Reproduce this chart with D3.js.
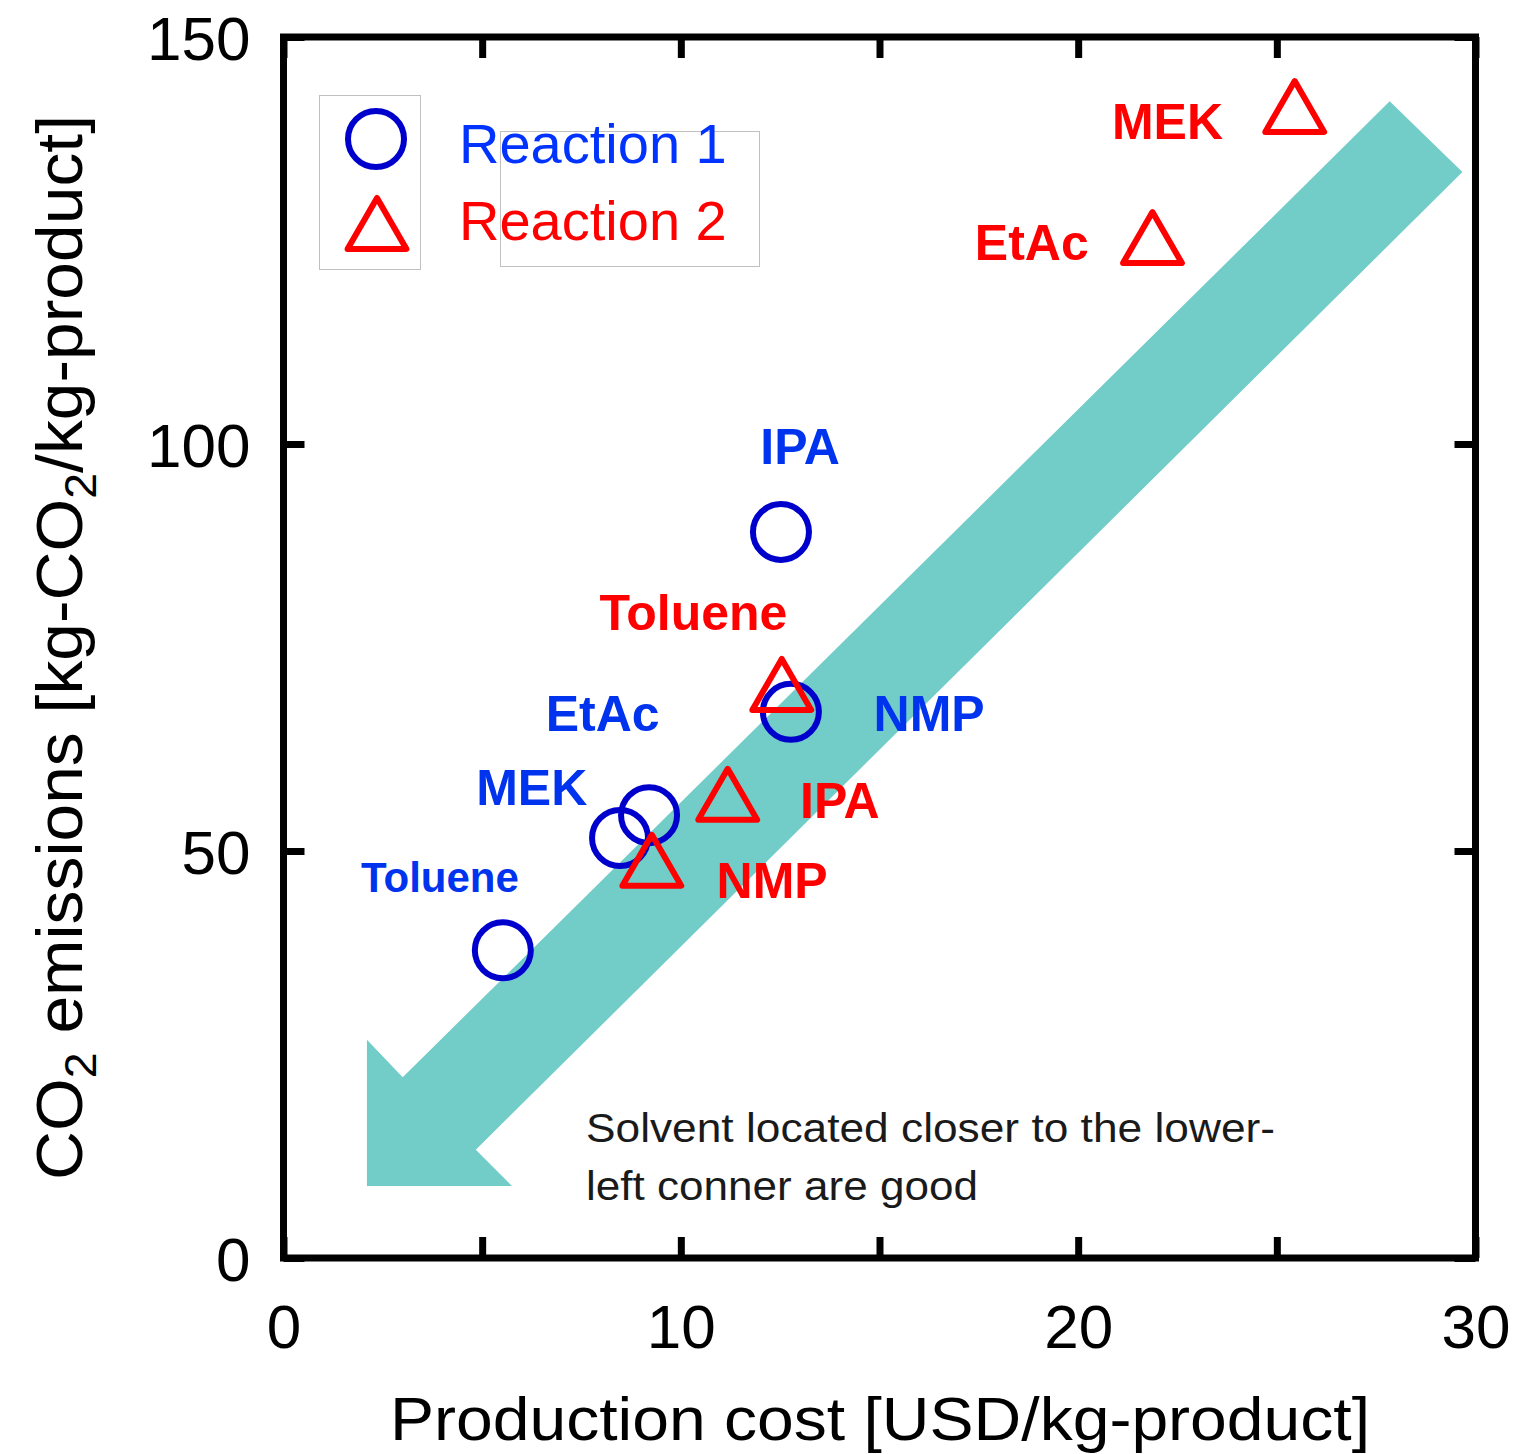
<!DOCTYPE html>
<html>
<head>
<meta charset="utf-8">
<script src="https://cdn.jsdelivr.net/npm/d3@7"></script>
<style>
  body { margin: 0; background: #fff; }
  text { font-family: "Liberation Sans", Arial, sans-serif; }
</style>
</head>
<body>
<svg id="chart" width="1533" height="1454"></svg>
<script>
// data
const solvents1 = ['Toluene', 'MEK', 'EtAc', 'IPA', 'NMP'];
const cost1 = [5.52, 8.47, 9.2, 12.52, 12.77];
const co2_1 = [37.8, 51.6, 54.4, 89.2, 67.1];

const solvents2 = ['MEK', 'EtAc', 'Toluene', 'IPA', 'NMP'];
const cost2 = [25.45, 21.87, 12.54, 11.18, 9.27];
const co2_2 = [141.4, 125.3, 70.4, 56.9, 48.8];

// label anchors (data units) for each point label
const label1 = [
  { x: 1.95, y: 45.0, size: 42 },
  { x: 4.85, y: 55.7, size: 50 },
  { x: 6.6, y: 64.8, size: 50 },
  { x: 12.0, y: 97.5, size: 50 },
  { x: 14.85, y: 64.8, size: 50 }
];
const label2 = [
  { x: 20.85, y: 137.5, size: 50 },
  { x: 17.4, y: 122.6, size: 50 },
  { x: 7.95, y: 77.2, size: 50 },
  { x: 13.0, y: 54.0, size: 50 },
  { x: 10.9, y: 44.2, size: 50 }
];

const xTicks = [0, 5, 10, 15, 20, 25, 30];
const xLabels = [0, 10, 20, 30];
const yTicks = [0, 50, 100, 150];

// big "lower-left is better" arrow outline, data units
const arrowPts = [
  [27.84, 142.1], [29.67, 133.4], [4.84, 13.3], [5.75, 8.85],
  [2.1, 8.85], [2.1, 26.8], [3.0, 22.2]
];

const margin = { top: 37, left: 283.5, right: 57.5, bottom: 196 };
const W = 1533, H = 1454;
const iw = W - margin.left - margin.right;
const ih = H - margin.top - margin.bottom;

const svg = d3.select('#chart');
const g = svg.append('g').attr('transform', 'translate(' + [margin.left, margin.top] + ')');

const x = d3.scaleLinear().domain([0, 30]).range([0, iw]);
const y = d3.scaleLinear().domain([0, 150]).range([ih, 0]);

const blue = '#0000cc', blueText = '#0033ee', red = '#ff0000';

// arrow
g.append('path')
  .attr('d', d3.line().x(d => x(d[0])).y(d => y(d[1]))(arrowPts) + 'Z')
  .style('fill', '#72cdc9');

// ticks (inward on all four sides)
function tickAxis(axis, tr) {
  const a = g.append('g').attr('transform', tr).call(axis);
  a.select('.domain').remove();
  a.selectAll('.tick line').style('stroke', '#000').style('stroke-width', 7);
  a.selectAll('.tick text').remove();
}
tickAxis(d3.axisBottom(x).tickValues(xTicks).tickSize(-21), 'translate(0,' + ih + ')');
tickAxis(d3.axisTop(x).tickValues(xTicks).tickSize(-21), 'translate(0,0)');
tickAxis(d3.axisLeft(y).tickValues(yTicks).tickSize(-21), 'translate(0,0)');
tickAxis(d3.axisRight(y).tickValues(yTicks).tickSize(-21), 'translate(' + iw + ',0)');

// frame
g.append('rect').attr('width', iw).attr('height', ih)
  .style('fill', 'none').style('stroke', '#000').style('stroke-width', 7);

// tick labels
const xl = g.append('g').attr('transform', 'translate(0,' + ih + ')')
  .call(d3.axisBottom(x).tickValues(xLabels).tickSize(0).tickPadding(0));
xl.select('.domain').remove();
xl.selectAll('.tick text').attr('y', 90).attr('dy', 0)
  .style('font-size', '62px').style('font-family', '"Liberation Sans", Arial, sans-serif').style('fill', '#000');

const yl = g.append('g')
  .call(d3.axisLeft(y).tickValues(yTicks).tickSize(0).tickPadding(0));
yl.select('.domain').remove();
yl.selectAll('.tick text').attr('x', -33).attr('dy', '0.36em')
  .style('font-size', '62px').style('font-family', '"Liberation Sans", Arial, sans-serif').style('fill', '#000');

// axis titles
svg.append('text').attr('x', 390).attr('y', 1440)
  .attr('textLength', 980).attr('lengthAdjust', 'spacingAndGlyphs')
  .style('font-size', '62px').text('Production cost [USD/kg-product]');

const yt = svg.append('text')
  .attr('transform', 'translate(82,1180) rotate(-90)')
  .attr('textLength', 1065).attr('lengthAdjust', 'spacingAndGlyphs')
  .style('font-size', '64px');
yt.append('tspan').text('CO');
yt.append('tspan').attr('dy', 14).style('font-size', '44px').text('2');
yt.append('tspan').attr('dy', -14).text(' emissions [kg-CO');
yt.append('tspan').attr('dy', 14).style('font-size', '44px').text('2');
yt.append('tspan').attr('dy', -14).text('/kg-product]');

// series 1: circles
g.selectAll('.c1').data(solvents1).enter().append('circle')
  .attr('cx', (d, i) => x(cost1[i])).attr('cy', (d, i) => y(co2_1[i])).attr('r', 28)
  .style('fill', 'none').style('stroke', blue).style('stroke-width', 6);

// series 2: triangles
const tri = d3.symbol().type(d3.symbolTriangle).size(1500);
g.selectAll('.t2').data(solvents2).enter().append('path')
  .attr('d', tri)
  .attr('transform', (d, i) => 'translate(' + x(cost2[i]) + ',' + (y(co2_2[i]) + 8) + ')')
  .style('fill', 'none').style('stroke', red).style('stroke-width', 6).style('stroke-linejoin', 'round');

// point labels
g.selectAll('.l1').data(solvents1).enter().append('text')
  .attr('x', (d, i) => x(label1[i].x)).attr('y', (d, i) => y(label1[i].y))
  .style('font-size', (d, i) => label1[i].size + 'px').style('font-weight', 'bold')
  .style('fill', blueText).text(d => d);
g.selectAll('.l2').data(solvents2).enter().append('text')
  .attr('x', (d, i) => x(label2[i].x)).attr('y', (d, i) => y(label2[i].y))
  .style('font-size', (d, i) => label2[i].size + 'px').style('font-weight', 'bold')
  .style('fill', red).text(d => d);

// annotation
svg.append('text').attr('x', 586).attr('y', 1142)
  .attr('textLength', 689).attr('lengthAdjust', 'spacingAndGlyphs')
  .style('font-size', '40px').style('fill', '#1a1a1a').text('Solvent located closer to the lower-');
svg.append('text').attr('x', 586).attr('y', 1200)
  .attr('textLength', 392).attr('lengthAdjust', 'spacingAndGlyphs')
  .style('font-size', '40px').style('fill', '#1a1a1a').text('left conner are good');

// legend
svg.append('rect').attr('x', 319.5).attr('y', 95.5).attr('width', 101).attr('height', 174)
  .style('fill', 'none').style('stroke', '#c0c0c0').style('stroke-width', 1);
svg.append('rect').attr('x', 500.5).attr('y', 131.5).attr('width', 259).attr('height', 135)
  .style('fill', 'none').style('stroke', '#c0c0c0').style('stroke-width', 1);
svg.append('circle').attr('cx', 376).attr('cy', 139).attr('r', 28)
  .style('fill', 'none').style('stroke', blue).style('stroke-width', 6);
svg.append('path').attr('d', tri).attr('transform', 'translate(377,232)')
  .style('fill', 'none').style('stroke', red).style('stroke-width', 6).style('stroke-linejoin', 'round');
svg.append('text').attr('x', 459).attr('y', 163).style('font-size', '56px')
  .style('fill', '#0033ff').text('Reaction 1');
svg.append('text').attr('x', 459).attr('y', 240).style('font-size', '56px')
  .style('fill', red).text('Reaction 2');
</script>
</body>
</html>
